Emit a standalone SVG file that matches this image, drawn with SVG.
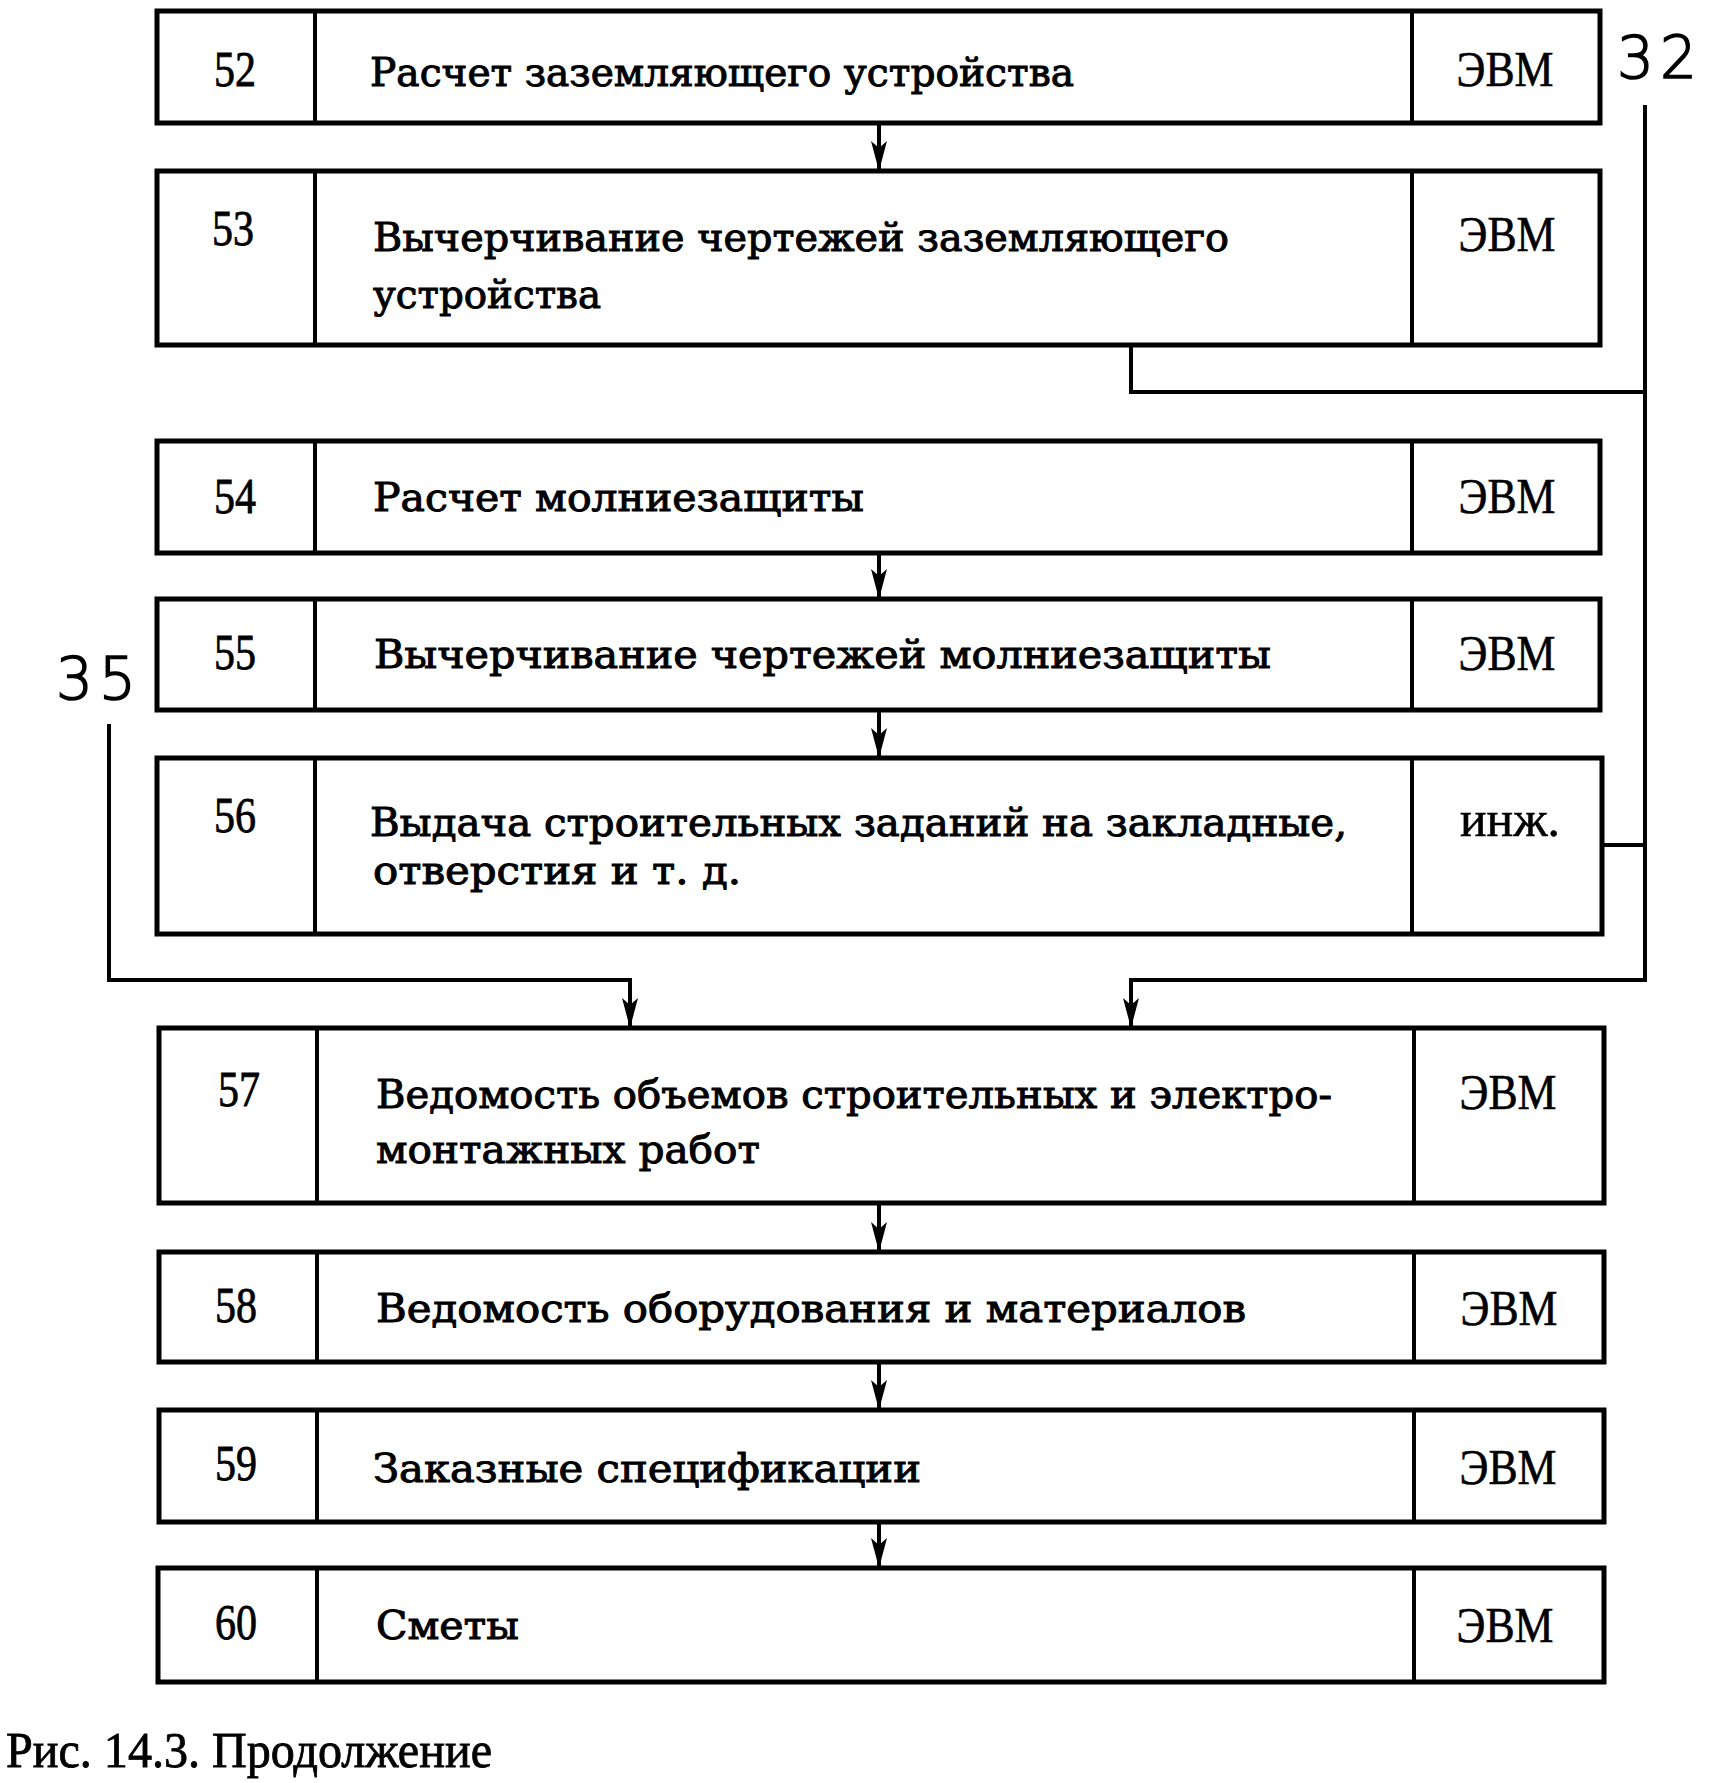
<svg xmlns="http://www.w3.org/2000/svg" width="1732" height="1783" viewBox="0 0 1732 1783">
<style>
.box{fill:#fff;stroke:#000;stroke-width:5}
.div{stroke:#000;stroke-width:4}
.num{font-family:"Liberation Serif",serif;font-size:50px;text-anchor:middle;fill:#000;stroke:#000;stroke-width:0.8}
.txt{font-family:"DejaVu Serif",serif;font-size:39px;fill:#000;stroke:#000;stroke-width:1}
.who{font-family:"Liberation Serif",serif;font-size:50px;text-anchor:middle;fill:#000;stroke:#000;stroke-width:0.6}
.lbl{font-family:"DejaVu Sans",sans-serif;font-weight:200;font-size:58px;fill:#000;stroke:#000;stroke-width:1.6;letter-spacing:6px}
.cap{font-family:"Liberation Serif",serif;font-size:50px;fill:#000;stroke:#000;stroke-width:0.8}
.con{fill:none;stroke:#000;stroke-width:4}
</style>
<defs>
<marker id="ah" markerUnits="userSpaceOnUse" markerWidth="34" markerHeight="20" refX="30" refY="9" orient="auto">
<path d="M0,1 L30,9 L0,17 L7,9 z" fill="#000"/>
</marker>
</defs>

<g id="n52">
<rect class="box" x="157" y="11" width="1443" height="112"/>
<line class="div" x1="315" y1="11" x2="315" y2="123"/>
<line class="div" x1="1412" y1="11" x2="1412" y2="123"/>
<text class="num" x="235" y="86" textLength="42" lengthAdjust="spacingAndGlyphs">52</text>
<text class="txt" x="370" y="86" textLength="704" lengthAdjust="spacingAndGlyphs">Расчет заземляющего устройства</text>
<text class="who" x="1505" y="86" textLength="97" lengthAdjust="spacingAndGlyphs">ЭВМ</text>
</g>

<g id="n53">
<rect class="box" x="157" y="171" width="1443" height="174"/>
<line class="div" x1="315" y1="171" x2="315" y2="345"/>
<line class="div" x1="1412" y1="171" x2="1412" y2="345"/>
<text class="num" x="233" y="245" textLength="42" lengthAdjust="spacingAndGlyphs">53</text>
<text class="txt" x="373" y="251" textLength="856" lengthAdjust="spacingAndGlyphs">Вычерчивание чертежей заземляющего</text>
<text class="txt" x="373" y="308" textLength="228" lengthAdjust="spacingAndGlyphs">устройства</text>
<text class="who" x="1507" y="251" textLength="97" lengthAdjust="spacingAndGlyphs">ЭВМ</text>
</g>

<g id="n54">
<rect class="box" x="157" y="441" width="1443" height="112"/>
<line class="div" x1="315" y1="441" x2="315" y2="553"/>
<line class="div" x1="1412" y1="441" x2="1412" y2="553"/>
<text class="num" x="235" y="513" textLength="42" lengthAdjust="spacingAndGlyphs">54</text>
<text class="txt" x="373" y="511" textLength="491" lengthAdjust="spacingAndGlyphs">Расчет молниезащиты</text>
<text class="who" x="1507" y="513" textLength="97" lengthAdjust="spacingAndGlyphs">ЭВМ</text>
</g>

<g id="n55">
<rect class="box" x="157" y="599" width="1443" height="111"/>
<line class="div" x1="315" y1="599" x2="315" y2="710"/>
<line class="div" x1="1412" y1="599" x2="1412" y2="710"/>
<text class="num" x="235" y="669" textLength="42" lengthAdjust="spacingAndGlyphs">55</text>
<text class="txt" x="374" y="668" textLength="897" lengthAdjust="spacingAndGlyphs">Вычерчивание чертежей молниезащиты</text>
<text class="who" x="1507" y="670" textLength="97" lengthAdjust="spacingAndGlyphs">ЭВМ</text>
</g>

<g id="n56">
<rect class="box" x="157" y="758" width="1445" height="176"/>
<line class="div" x1="315" y1="758" x2="315" y2="934"/>
<line class="div" x1="1412" y1="758" x2="1412" y2="934"/>
<text class="num" x="235" y="832" textLength="42" lengthAdjust="spacingAndGlyphs">56</text>
<text class="txt" x="370" y="836" textLength="977" lengthAdjust="spacingAndGlyphs">Выдача строительных заданий на закладные,</text>
<text class="txt" x="373" y="884" textLength="368" lengthAdjust="spacingAndGlyphs">отверстия и т. д.</text>
<text class="who" x="1510" y="836" textLength="100" lengthAdjust="spacingAndGlyphs">инж.</text>
</g>

<g id="n57">
<rect class="box" x="159" y="1028" width="1445" height="175"/>
<line class="div" x1="317" y1="1028" x2="317" y2="1203"/>
<line class="div" x1="1414" y1="1028" x2="1414" y2="1203"/>
<text class="num" x="239" y="1106" textLength="42" lengthAdjust="spacingAndGlyphs">57</text>
<text class="txt" x="376" y="1108" textLength="956" lengthAdjust="spacingAndGlyphs">Ведомость объемов строительных и электро-</text>
<text class="txt" x="376" y="1163" textLength="384" lengthAdjust="spacingAndGlyphs">монтажных работ</text>
<text class="who" x="1508" y="1109" textLength="97" lengthAdjust="spacingAndGlyphs">ЭВМ</text>
</g>

<g id="n58">
<rect class="box" x="159" y="1252" width="1445" height="110"/>
<line class="div" x1="317" y1="1252" x2="317" y2="1362"/>
<line class="div" x1="1414" y1="1252" x2="1414" y2="1362"/>
<text class="num" x="236" y="1322" textLength="42" lengthAdjust="spacingAndGlyphs">58</text>
<text class="txt" x="376" y="1322" textLength="870" lengthAdjust="spacingAndGlyphs">Ведомость оборудования и материалов</text>
<text class="who" x="1509" y="1325" textLength="97" lengthAdjust="spacingAndGlyphs">ЭВМ</text>
</g>

<g id="n59">
<rect class="box" x="159" y="1410" width="1445" height="112"/>
<line class="div" x1="317" y1="1410" x2="317" y2="1522"/>
<line class="div" x1="1414" y1="1410" x2="1414" y2="1522"/>
<text class="num" x="236" y="1480" textLength="42" lengthAdjust="spacingAndGlyphs">59</text>
<text class="txt" x="373" y="1482" textLength="548" lengthAdjust="spacingAndGlyphs">Заказные спецификации</text>
<text class="who" x="1508" y="1484" textLength="97" lengthAdjust="spacingAndGlyphs">ЭВМ</text>
</g>

<g id="n60">
<rect class="box" x="158" y="1568" width="1446" height="114"/>
<line class="div" x1="317" y1="1568" x2="317" y2="1682"/>
<line class="div" x1="1414" y1="1568" x2="1414" y2="1682"/>
<text class="num" x="236" y="1639" textLength="42" lengthAdjust="spacingAndGlyphs">60</text>
<text class="txt" x="376" y="1639" textLength="143" lengthAdjust="spacingAndGlyphs">Сметы</text>
<text class="who" x="1505" y="1642" textLength="97" lengthAdjust="spacingAndGlyphs">ЭВМ</text>
</g>

<g id="connectors">
<line class="con" x1="879" y1="123" x2="879" y2="171" marker-end="url(#ah)"/>
<polyline class="con" points="1131,345 1131,392 1645,392"/>
<polyline class="con" points="1645,105 1645,980 1131,980 1131,1028" marker-end="url(#ah)"/>
<line class="con" x1="1602" y1="845" x2="1645" y2="845"/>
<polyline class="con" points="109,724 109,980 630,980 630,1028" marker-end="url(#ah)"/>
<line class="con" x1="879" y1="553" x2="879" y2="599" marker-end="url(#ah)"/>
<line class="con" x1="879" y1="710" x2="879" y2="758" marker-end="url(#ah)"/>
<line class="con" x1="879" y1="1203" x2="879" y2="1252" marker-end="url(#ah)"/>
<line class="con" x1="879" y1="1362" x2="879" y2="1410" marker-end="url(#ah)"/>
<line class="con" x1="879" y1="1522" x2="879" y2="1568" marker-end="url(#ah)"/>
</g>

<g id="labels">
<text class="lbl" x="1617" y="78">32</text>
<text class="lbl" x="56" y="699">35</text>
<text class="cap" x="6" y="1767" textLength="486" lengthAdjust="spacingAndGlyphs">Рис. 14.3. Продолжение</text>
</g>
</svg>
